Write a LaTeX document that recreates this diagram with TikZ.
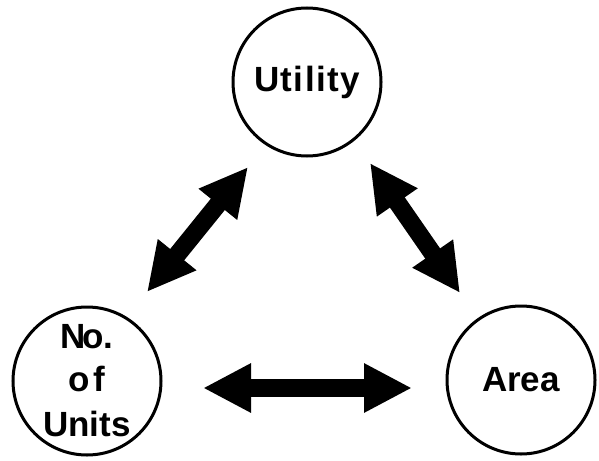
\documentclass[tikz,border=0pt]{standalone}
\usepackage{fontspec}
\setmainfont{Liberation Sans}
\usetikzlibrary{arrows.meta}
\begin{document}
\begin{tikzpicture}[x=1pt,y=-1pt,
  bubble/.style={circle,draw=black,line width=3pt,minimum size=148pt,inner sep=0pt,
    font=\fontsize{35}{42}\selectfont\bfseries,align=center},
  fatarrow/.style={line width=18pt,
    {Triangle[length=48pt,width=46pt]}-{Triangle[length=48pt,width=46pt]}}]
\useasboundingbox (0,0) rectangle (599,460);
\node[bubble] (u) at (307,82) {\addfontfeatures{LetterSpace=4}Utility};
\node[bubble] (n) at (87,381) {N\kern-3pt o.\\[1pt]o\kern4pt f\\[3pt]Units};
\node[bubble] (a) at (521,380) {Area};
\coordinate (l1) at (248,167);
\coordinate (l2) at (147,292);
\coordinate (r1) at (370,163);
\coordinate (r2) at (460,293);
\coordinate (h1) at (203,388);
\coordinate (h2) at (412,388);
\draw[fatarrow] (l1) -- (l2);
\draw[fatarrow] (r1) -- (r2);
\draw[fatarrow] (h1) -- (h2);
\end{tikzpicture}
\end{document}
